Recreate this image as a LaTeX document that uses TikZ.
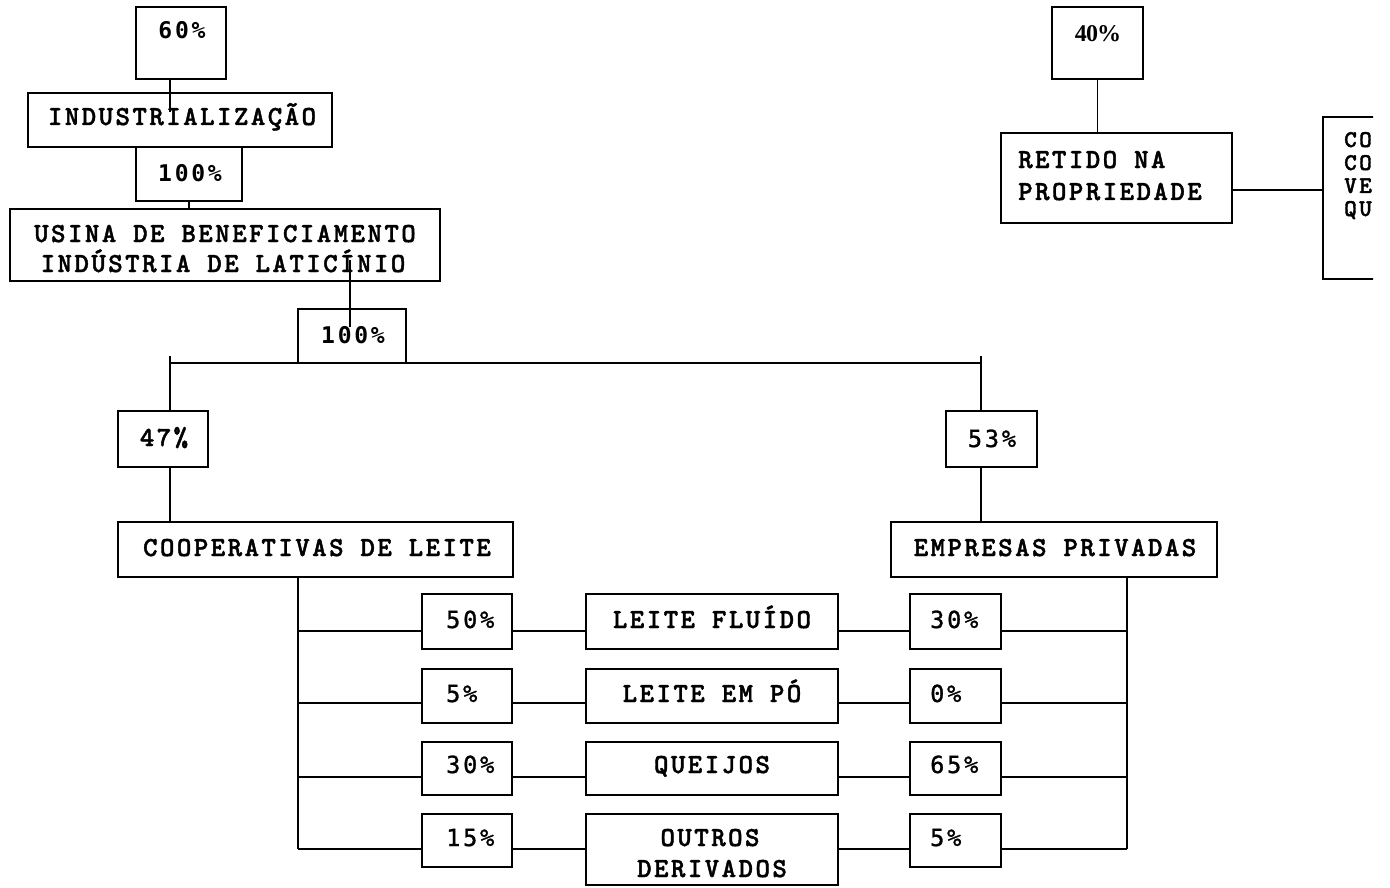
\documentclass[tikz,border=0pt]{standalone}
\usepackage{fontspec}
\usetikzlibrary{fit}
\newfontfamily\courf{lmmonolt10-bold.otf}[LetterSpace=9, FakeBold=1.6]
\newfontfamily\coursm{lmmonolt10-bold.otf}[LetterSpace=10, FakeBold=1.6]
\newfontfamily\pctf{DejaVu Sans Mono}[LetterSpace=12, FakeBold=1.2]
\newfontfamily\pctbf{DejaVu Sans Mono Bold}[LetterSpace=12]
\newfontfamily\timesf{Liberation Serif}[LetterSpace=-4]
\tikzset{
  box/.style={draw, line width=1.5pt, inner sep=0pt, fit={#1}},
  conn/.style={line width=1.5pt},
  lbl/.style={font=\courf\fontsize{27.5}{32}\selectfont, inner sep=0pt, anchor=base},
  pcb/.style={font=\pctbf\fontsize{23}{28}\selectfont, inner sep=0pt, anchor=base},
  pc/.style={font=\pctf\fontsize{23.5}{28}\selectfont, inner sep=0pt, anchor=base},
  pcl/.style={pc, anchor=base west},
  small/.style={font=\coursm\fontsize{24}{23}\selectfont, inner sep=0pt, anchor=base west},
}
\begin{document}
\begin{tikzpicture}[x=1pt,y=-1pt]
\useasboundingbox (0,0) rectangle (1390,888);
% ---------- boxes, upper left
\node[box={(136,7) (226,79)}] (b60) {};
\node[box={(28,93) (332,147)}] (bind) {};
\node[box={(136,147) (242,201)}] (b100a) {};
\node[box={(10,209) (440,281)}] (busina) {};
\node[box={(298,309) (406,363)}] (b100b) {};
\node[box={(118,411) (208,467)}] (b47) {};
\node[box={(118,522) (513,577)}] (bcoop) {};
\node[box={(946,411) (1037,467)}] (b53) {};
\node[box={(891,522) (1217,577)}] (bemp) {};
% ---------- rows
\node[box={(422,594) (512,649)}] (l1) {};
\node[box={(422,669) (512,723)}] (l2) {};
\node[box={(422,742) (512,795)}] (l3) {};
\node[box={(422,814) (512,867)}] (l4) {};
\node[box={(586,594) (838,649)}] (m1) {};
\node[box={(586,669) (838,723)}] (m2) {};
\node[box={(586,742) (838,795)}] (m3) {};
\node[box={(586,814) (838,885)}] (m4) {};
\node[box={(910,594) (1001,649)}] (r1) {};
\node[box={(910,669) (1001,723)}] (r2) {};
\node[box={(910,742) (1001,795)}] (r3) {};
\node[box={(910,814) (1001,867)}] (r4) {};
% ---------- upper right
\node[box={(1052,7) (1143,79)}] (b40) {};
\node[box={(1001,133) (1232,223)}] (bret) {};
\begin{scope}
  \clip (1240,0) rectangle (1373,300);
  \node[box={(1323,117) (1430,279)}] (bcon) {};
  \node[small] (tc1) at (1344,147) {CO};
  \node[small] (tc2) at (1344,170) {CO};
  \node[small] (tc3) at (1344,193) {VE};
  \node[small] (tc4) at (1344,216) {QU};
\end{scope}
% ---------- texts
\node[pcb] (t60) at (182,39) {60\%};
\node[lbl] (tind) at (182,125) {INDUSTRIALIZAÇÃO};
\node[pcb] (t100a) at (190,182) {100\%};
\node[lbl] (tus1) at (225,242) {USINA DE BENEFICIAMENTO};
\node[lbl] (tus2) at (223,272) {INDÚSTRIA DE LATICÍNIO};
\node[pcb] (t100b) at (353,343) {100\%};
\node[lbl] (t47) at (164,446) {47\%};
\node[lbl] (tcoop) at (317,556) {COOPERATIVAS DE LEITE};
\node[pc] (t53) at (992,447) {53\%};
\node[lbl] (temp) at (1055,556) {EMPRESAS PRIVADAS};
\node[lbl, font=\timesf\bfseries\fontsize{24}{28}\selectfont] (t40) at (1098,42) {40\%};
\node[lbl, anchor=base west] (tret1) at (1018,168) {RETIDO NA};
\node[lbl, anchor=base west] (tret2) at (1018,200) {PROPRIEDADE};
% rows texts
\node[pcl] (tl1) at (446,628) {50\%};
\node[pcl] (tl2) at (446,702) {5\%};
\node[pcl] (tl3) at (446,773) {30\%};
\node[pcl] (tl4) at (446,846) {15\%};
\node[lbl] (tm1) at (712,628) {LEITE FLUÍDO};
\node[lbl] (tm2) at (712,702) {LEITE EM PÓ};
\node[lbl] (tm3) at (712,773) {QUEIJOS};
\node[lbl] (tm4a) at (710,846) {OUTROS};
\node[lbl] (tm4b) at (712,877) {DERIVADOS};
\node[pcl] (tr1) at (930,628) {30\%};
\node[pcl] (tr2) at (930,702) {0\%};
\node[pcl] (tr3) at (930,773) {65\%};
\node[pcl] (tr4) at (930,846) {5\%};
% ---------- connectors
\coordinate (c1) at (170,112);
\draw[conn] (c1 |- b60.south) -- (c1);
\draw[conn] (b100a.south) -- (b100a.south |- busina.north);
\coordinate (c2) at (350,260);
\coordinate (c3) at (350,327);
\draw[conn] (c2) -- (c3);
\coordinate (hl) at (170,363);
\coordinate (hr) at (981,363);
\coordinate (hlt) at (170,356);
\coordinate (hrt) at (981,356);
\draw[conn] (hl) -- (hr);
\draw[conn] (hlt) -- (hlt |- b47.north);
\draw[conn] (hrt) -- (hrt |- b53.north);
\draw[conn] (hl |- b47.south) -- (hl |- bcoop.north);
\draw[conn] (hr |- b53.south) -- (hr |- bemp.north);
\coordinate (tl) at (298,577);
\coordinate (tr) at (1127,577);
\coordinate (y1) at (0,631);
\coordinate (y2) at (0,703);
\coordinate (y3) at (0,777);
\coordinate (y4) at (0,849);
\draw[conn] (tl) -- (tl |- y4);
\draw[conn] (tr) -- (tr |- y4);
\foreach \i in {1,2,3,4}{
  \draw[conn] (tl |- y\i) -- (l\i.west |- y\i);
  \draw[conn] (l\i.east |- y\i) -- (m\i.west |- y\i);
  \draw[conn] (m\i.east |- y\i) -- (r\i.west |- y\i);
  \draw[conn] (r\i.east |- y\i) -- (tr |- y\i);
}
\coordinate (rj) at (1323,190);
\draw[conn] (b40.south) -- (b40.south |- bret.north);
\draw[conn] (bret.east |- rj) -- (rj);
\end{tikzpicture}
\end{document}
